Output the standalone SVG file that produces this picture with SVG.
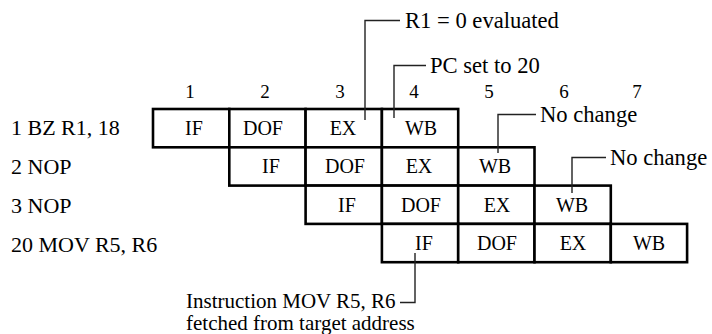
<svg xmlns="http://www.w3.org/2000/svg" width="712" height="334" viewBox="0 0 712 334">
<style>
text { font-family: "Liberation Serif", "Times New Roman", serif; fill: #000; }
.lbl { font-size: 22px; }
.top { font-size: 22.6px; }
.bot { font-size: 21px; }
.num { font-size: 19px; text-anchor: middle; }
.cell rect { fill: #fff; stroke: #000; stroke-width: 2.6; }
.cell text { font-size: 20px; text-anchor: middle; }
.call { fill: none; stroke: #222; stroke-width: 1.4; }
</style>
<rect width="712" height="334" fill="#fff"/>
<g id="column-numbers">
<text class="num" x="190" y="98">1</text>
<text class="num" x="265" y="98">2</text>
<text class="num" x="340" y="98">3</text>
<text class="num" x="414" y="98">4</text>
<text class="num" x="489" y="98">5</text>
<text class="num" x="564" y="98">6</text>
<text class="num" x="637" y="98">7</text>
</g>
<g id="row-labels">
<text class="lbl" x="11" y="135">1 BZ R1, 18</text>
<text class="lbl" x="11" y="173.5">2 NOP</text>
<text class="lbl" x="11" y="212.5">3 NOP</text>
<text class="lbl" x="11" y="252">20 MOV R5, R6</text>
</g>
<g id="row1" class="cell">
<rect x="153" y="109" width="76.3" height="38.3"/>
<rect x="229.3" y="109" width="76.3" height="38.3"/>
<rect x="305.6" y="109" width="76.3" height="38.3"/>
<rect x="381.9" y="109" width="76.3" height="38.3"/>
<text x="194" y="135">IF</text>
<text x="263" y="135">DOF</text>
<text x="343" y="135">EX</text>
<text x="421" y="135">WB</text>
</g>
<g id="row2" class="cell">
<rect x="229.3" y="147.3" width="76.3" height="38.3"/>
<rect x="305.6" y="147.3" width="76.3" height="38.3"/>
<rect x="381.9" y="147.3" width="76.3" height="38.3"/>
<rect x="458.2" y="147.3" width="76.3" height="38.3"/>
<text x="271" y="173">IF</text>
<text x="345" y="173">DOF</text>
<text x="419" y="173">EX</text>
<text x="495" y="173">WB</text>
</g>
<g id="row3" class="cell">
<rect x="305.6" y="185.6" width="76.3" height="38.3"/>
<rect x="381.9" y="185.6" width="76.3" height="38.3"/>
<rect x="458.2" y="185.6" width="76.3" height="38.3"/>
<rect x="534.5" y="185.6" width="76.3" height="38.3"/>
<text x="347" y="212">IF</text>
<text x="421" y="212">DOF</text>
<text x="497" y="212">EX</text>
<text x="572" y="212">WB</text>
</g>
<g id="row4" class="cell">
<rect x="381.9" y="223.9" width="76.3" height="38.3"/>
<rect x="458.2" y="223.9" width="76.3" height="38.3"/>
<rect x="534.5" y="223.9" width="76.3" height="38.3"/>
<rect x="610.8" y="223.9" width="76.3" height="38.3"/>
<text x="424" y="250">IF</text>
<text x="497" y="250">DOF</text>
<text x="573" y="250">EX</text>
<text x="649" y="250">WB</text>
</g>
<g id="connectors">
<polyline class="call" points="365,120 365,20.5 400,20.5"/>
<polyline class="call" points="394,118 394,65.5 426,65.5"/>
<polyline class="call" points="498,153 498,114.5 536,114.5"/>
<polyline class="call" points="572,193 572,157.5 606,157.5"/>
<polyline class="call" points="415,253 415,302.5 400,302.5"/>
</g>
<g id="callouts">
<text class="top" x="405" y="27.5">R1 = 0 evaluated</text>
<text class="top" x="430" y="72.5">PC set to 20</text>
<text class="top" x="540" y="121.5">No change</text>
<text class="top" x="610" y="164.5">No change</text>
<text class="bot" x="186" y="308">Instruction MOV R5, R6</text>
<text class="bot" x="186" y="330">fetched from target address</text>
</g>
</svg>
